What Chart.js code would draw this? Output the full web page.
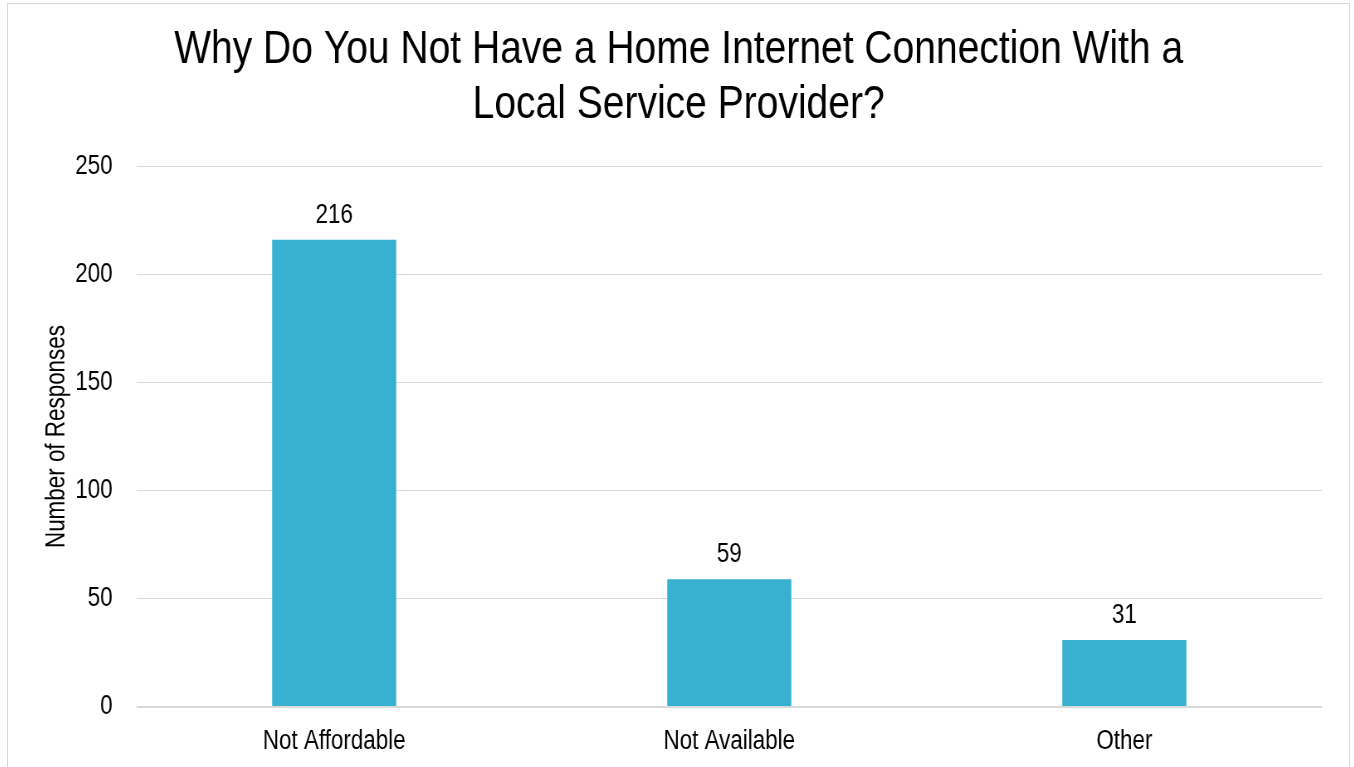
<!DOCTYPE html>
<html>
<head>
<meta charset="utf-8">
<script src="https://cdn.jsdelivr.net/npm/chart.js@4.4.0/dist/chart.umd.min.js"></script>
<style>
    html, body { margin: 0; padding: 0; background: #fff; overflow: hidden; }
    #frame {
        position: absolute;
        left: 7px;
        top: 3px;
        width: 1343px;
        height: 790px;
        border: 1px solid #d9d9d9;
        box-sizing: border-box;
        overflow: hidden;
    }
    /* no narrow face is installed, so the whole drawing is squeezed sideways instead */
    #chart { display: block; transform: scaleX(0.83); transform-origin: 0 0; }
</style>
</head>
<body>
<div id="frame"><canvas id="chart" width="1616" height="788"></canvas></div>
<script>
const categories = ["Not Affordable", "Not Available", "Other"];
const responses = [216, 59, 31];
const yTicks = [0, 50, 100, 150, 200, 250];
const titleLines = ["Why Do You Not Have a Home Internet Connection With a", "Local Service Provider?"];
const yAxisTitle = "Number of Responses";

const SQUEEZE = 0.83;
const FONT = "'Liberation Sans', Arial, sans-serif";
const BAR_COLOR = "#38b0d0";

// writes each bar's value just above it
const valueLabels = {
    id: "valueLabels",
    afterDatasetsDraw(chart) {
        const ctx = chart.ctx;
        ctx.save();
        ctx.font = "27px " + FONT;
        ctx.fillStyle = "#000";
        ctx.textAlign = "center";
        ctx.textBaseline = "alphabetic";
        chart.getDatasetMeta(0).data.forEach((bar, i) => {
            ctx.fillText(String(responses[i]), bar.x, bar.y - 17);
        });
        ctx.restore();
    }
};

// rotated axis title, stretched back across so only its length ends up narrow
const sideTitle = {
    id: "sideTitle",
    afterDraw(chart) {
        const ctx = chart.ctx;
        const area = chart.chartArea;
        ctx.save();
        ctx.translate(59, (area.top + area.bottom) / 2);
        ctx.rotate(-Math.PI / 2);
        ctx.scale(SQUEEZE, 1 / SQUEEZE);
        ctx.font = "27px " + FONT;
        ctx.fillStyle = "#000";
        ctx.textAlign = "center";
        ctx.textBaseline = "middle";
        ctx.fillText(yAxisTitle, 0, 0);
        ctx.restore();
    }
};

new Chart(document.getElementById("chart"), {
    type: "bar",
    data: {
        labels: categories,
        datasets: [{
            data: responses,
            backgroundColor: BAR_COLOR,
            borderWidth: 0,
            categoryPercentage: 1,
            barPercentage: 0.314
        }]
    },
    options: {
        responsive: false,
        animation: false,
        layout: { padding: { top: 0, right: 33, bottom: 0, left: 33 } },
        plugins: {
            legend: { display: false },
            tooltip: { enabled: false },
            title: {
                display: true,
                text: titleLines,
                color: "#000",
                font: { family: FONT, size: 47, weight: "normal", lineHeight: 1.15 },
                padding: { top: 19.5, bottom: 34.5 }
            }
        },
        scales: {
            x: {
                grid: { display: false, drawTicks: false },
                border: { display: false },
                ticks: {
                    color: "#000",
                    padding: 18,
                    font: { family: FONT, size: 27 }
                },
                afterFit: scale => { scale.height = 85; }
            },
            y: {
                min: 0,
                max: 250,
                afterBuildTicks: scale => { scale.ticks = yTicks.map(v => ({ value: v })); },
                grid: {
                    color: "#d9d9d9",
                    lineWidth: c => c.tick && c.tick.value === 0 ? 2 : 1,
                    drawTicks: false
                },
                border: { display: false },
                ticks: {
                    color: "#000",
                    padding: 29,
                    font: { family: FONT, size: 27 }
                },
                afterFit: scale => { scale.width = 122; }
            }
        }
    },
    plugins: [valueLabels, sideTitle]
});
</script>
</body>
</html>
